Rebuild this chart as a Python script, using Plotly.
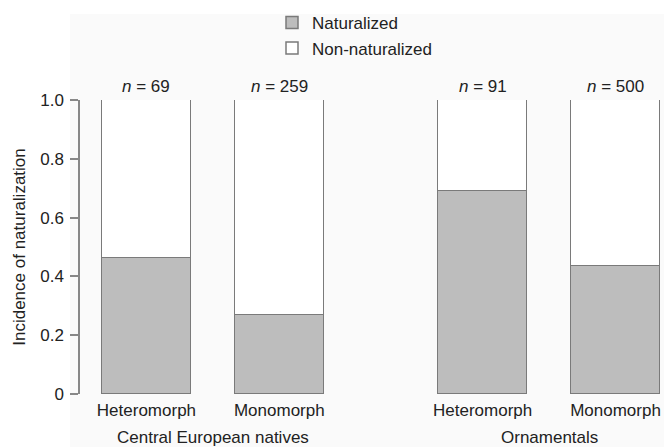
import plotly.graph_objects as go

# ---- data ----
categories = ["Heteromorph", "Monomorph", "Heteromorph", "Monomorph"]
groups = ["Central European natives", "Ornamentals"]
sample_sizes = [69, 259, 91, 500]
naturalized = [0.464, 0.270, 0.692, 0.436]
non_naturalized = [1 - v for v in naturalized]
x_pos = [1.0, 2.0, 3.53, 4.53]
y_tick_vals = [0, 0.2, 0.4, 0.6, 0.8, 1.0]
y_tick_text = ["0", "0.2", "0.4", "0.6", "0.8", "1.0"]

FONT = "Liberation Sans, Arial, sans-serif"
FS = 17
EDGE = "#7a7a7a"
TXT = "#222"

fig = go.Figure()
fig.add_trace(go.Bar(
    x=x_pos, y=naturalized, width=0.669, name="Naturalized",
    marker=dict(color="#bdbdbd", line=dict(color=EDGE, width=1.5)),
    legend="legend", showlegend=True, hoverinfo="skip"))
fig.add_trace(go.Bar(
    x=x_pos, y=non_naturalized, width=0.669, name="Non-naturalized",
    marker=dict(color="#ffffff", line=dict(color=EDGE, width=1.5)),
    legend="legend2", showlegend=True, hoverinfo="skip"))

annotations = []
for xp, n in zip(x_pos, sample_sizes):
    annotations.append(dict(x=xp, y=1, xref="x", yref="y", yanchor="bottom",
                            yshift=2, showarrow=False,
                            text=f"<i>n</i> = {n}",
                            font=dict(family=FONT, size=FS, color=TXT)))
group_centers = [(x_pos[0] + x_pos[1]) / 2, (x_pos[2] + x_pos[3]) / 2]

H = 294.0
W = 584.0
def py(px):
    return (394 - px) / H
def pxp(px):
    return (px - 80) / W

for gx, g in zip(group_centers, groups):
    annotations.append(dict(x=gx, y=py(437), xref="x", yref="paper",
                            yanchor="middle", showarrow=False, text=g,
                            font=dict(family=FONT, size=FS, color=TXT)))

fig.update_layout(
    width=664, height=447,
    margin=dict(l=80, r=0, t=100, b=53),
    paper_bgcolor="white", plot_bgcolor="rgba(0,0,0,0)",
    barmode="stack", bargap=0, showlegend=True,
    font=dict(family=FONT, size=FS, color=TXT),
    shapes=[dict(type="rect", xref="paper", yref="paper", layer="below",
                 x0=pxp(70), x1=1.0, y0=py(447), y1=py(14),
                 fillcolor="#fafafa", line=dict(width=0))],
    xaxis=dict(range=[0.5, 4.895], tickvals=x_pos, ticktext=categories,
               showline=False, showgrid=False, zeroline=False, ticks="",
               ticklabelstandoff=4,
               tickfont=dict(family=FONT, size=FS, color=TXT)),
    yaxis=dict(range=[0, 1], tickvals=y_tick_vals, ticktext=y_tick_text,
               showline=True, linecolor="#888", linewidth=1.5,
               ticks="outside", ticklen=8, tickcolor="#888", tickwidth=1.5,
               ticklabelstandoff=3,
               showgrid=False, zeroline=False,
               tickfont=dict(family=FONT, size=FS, color=TXT),
               title=dict(text="Incidence of naturalization", standoff=10,
                          font=dict(family=FONT, size=FS, color=TXT))),
    legend=dict(x=pxp(272), y=py(23), xanchor="left", yanchor="middle",
                bgcolor="rgba(0,0,0,0)", font=dict(family=FONT, size=FS, color=TXT)),
    legend2=dict(x=pxp(272), y=py(48.5), xanchor="left", yanchor="middle",
                 bgcolor="rgba(0,0,0,0)", font=dict(family=FONT, size=FS, color=TXT)),
    annotations=annotations,
)

fig.write_html("out.html", config={"displayModeBar": False},
               post_script="document.body.style.margin='0';document.body.style.overflow='hidden';")
